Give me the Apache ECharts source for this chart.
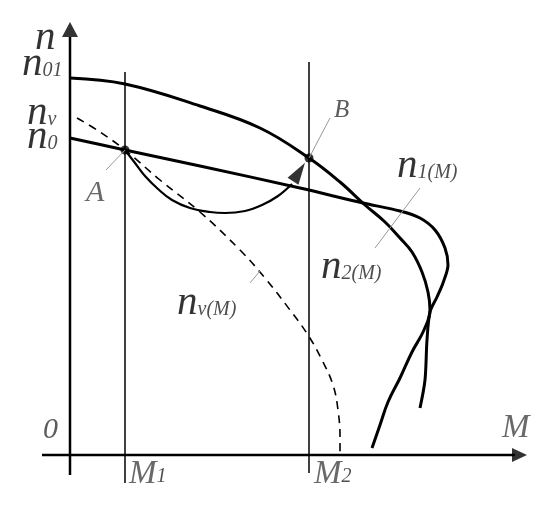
<!DOCTYPE html>
<html><head><meta charset="utf-8">
<script src="https://cdn.jsdelivr.net/npm/echarts@6/dist/echarts.min.js"></script>
<style>html,body{margin:0;padding:0;background:#fff}#c{width:550px;height:505px}</style>
</head><body><div id="c"></div>
<script>
// Curves in chart units (M to the right, n upward)
const curveN2 = [[0,377],[55,371],[130,349],[190,327],[239,297],[270,273],[295,250],[315,233],[330,217],[342,203],[352,183],[358,163],[360,145],[354,125],[342,103],[330,77],[318,53],[310,30],[302,7]];
const curveN1 = [[0,317],[55,305],[130,289],[230,267],[293,252],[330,244],[350,237],[365,225],[375,207],[378,190],[373,172],[367,158],[360,143],[357,115],[355,75],[350,47]];
const curveNv = [[7,337],[30,323],[55,305],[90,275],[130,243],[170,205],[195,177],[220,145],[238,120],[252,95],[263,70],[268,45],[270,18],[270,0]];
const arcAB = [[55,305],[65,292],[75,279],[88,266],[102,255],[120,247],[140,243],[155,242],[175,244],[192,250],[208,259],[222,271]];
const pointA = [55,305];
const pointB = [239,297];
const M1 = 55, M2 = 239;
const axisN = [[0,-20],[0,418]];
const axisM = [[-28,0],[445,0]];
const lineM1 = [[M1,-28],[M1,383]];
const lineM2 = [[M2,-18],[M2,393]];
const leaderA = [pointA,[36,285]];
const leaderB = [pointB,[260,337]];
const leaderN1 = [[350,267],[305,207]];
const leaderNv = [[190,184],[180,172]];
const arrowHeads = [{value:[0,425.5],rot:0,size:[16,15]},{value:[449.5,0],rot:-90,size:[14,15]},{value:[229,283],rot:-33,size:[13,22]}];
const labelTexts = [
  {t:'{N|n}', at:[-35,417]},
  {t:'{N|n}{S|01}', at:[-48,391]},
  {t:'{N|n}{S|v}', at:[-43,342]},
  {t:'{N|n}{S|0}', at:[-43,318]},
  {t:'{N|n}{S|1(M)}', at:[327,289]},
  {t:'{N|n}{S|2(M)}', at:[251,188]},
  {t:'{N|n}{S|v(M)}', at:[107,152]},
  {t:'{A|A}', at:[16,262]},
  {t:'{B|B}', at:[264,345]},
  {t:'{Z|0}', at:[-27,25]},
  {t:'{ML|M}', at:[432,27]},
  {t:'{ML|M}{S|1}', at:[59,-19]},
  {t:'{ML|M}{S|2}', at:[244,-19]}
];

const serif = '"Liberation Serif","DejaVu Serif",serif';
function lineS(data, w, opts) {
  return Object.assign({type:'line', data:data, symbol:'none', showSymbol:false, silent:true, animation:false,
    lineStyle:{color:'#000', width:w}}, opts || {});
}
const chart = echarts.init(document.getElementById('c'), null, {renderer:'canvas'});
chart.setOption({
  backgroundColor:'#fff',
  animation:false,
  grid:{left:0,right:0,top:0,bottom:0},
  xAxis:{type:'value', min:-70, max:480, show:false},
  yAxis:{type:'value', min:-50, max:455, show:false},
  series:[
    lineS(axisN, 2.5),
    lineS(axisM, 2.5),
    lineS(lineM1, 1.5),
    lineS(lineM2, 1.5),
    lineS(curveNv, 1.6, {smooth:0.4, lineStyle:{color:'#000', width:1.6, type:[8,6]}}),
    lineS(curveN2, 3, {smooth:0.4}),
    lineS(curveN1, 3, {smooth:0.3}),
    lineS(arcAB, 2.2, {smooth:0.4}),
    lineS(leaderA, 1, {lineStyle:{color:'#999', width:1}}),
    lineS(leaderB, 1, {lineStyle:{color:'#999', width:1}}),
    lineS(leaderN1, 1, {lineStyle:{color:'#999', width:1}}),
    lineS(leaderNv, 1, {lineStyle:{color:'#999', width:1}}),
    {type:'scatter', silent:true, animation:false, symbol:'circle', symbolSize:9, itemStyle:{color:'#000'}, data:[pointA, pointB]},
    {type:'scatter', silent:true, animation:false, symbol:'triangle', itemStyle:{color:'#000'},
      data: arrowHeads.map(a => ({value:a.value, symbolRotate:a.rot, symbolSize:a.size}))},
    {type:'scatter', silent:true, animation:false, symbolSize:0,
      data: labelTexts.map(l => ({value:l.at, label:{show:true, formatter:l.t}})),
      label:{show:true, position:[0,0], align:'left', verticalAlign:'middle',
        rich:{
          N:{fontFamily:serif, fontStyle:'italic', fontSize:41, color:'#000', verticalAlign:'bottom'},
          S:{fontFamily:serif, fontStyle:'italic', fontSize:20, color:'#222', verticalAlign:'bottom', padding:[0,0,4,0]},
          A:{fontFamily:serif, fontStyle:'italic', fontSize:30, color:'#444', verticalAlign:'bottom'},
          B:{fontFamily:serif, fontStyle:'italic', fontSize:25, color:'#333', verticalAlign:'bottom'},
          Z:{fontFamily:serif, fontStyle:'italic', fontSize:30, color:'#333', verticalAlign:'bottom'},
          ML:{fontFamily:serif, fontStyle:'italic', fontSize:33, color:'#444', verticalAlign:'bottom'}
        }}
    }
  ]
});
</script>
</body></html>
